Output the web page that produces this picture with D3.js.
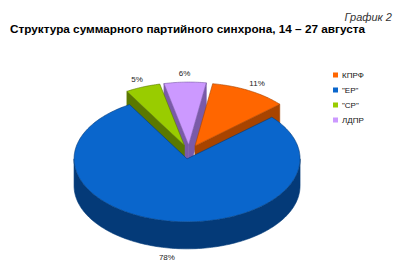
<!DOCTYPE html>
<html><head><meta charset="utf-8">
<script src="https://cdn.jsdelivr.net/npm/d3@7"></script>
<style>html,body{margin:0;padding:0;background:#fff;}svg{display:block;}</style>
</head><body>
<svg id="c" width="400" height="266"></svg>
<script>
const categories = ["КПРФ", "\"ЕР\"", "\"СР\"", "ЛДПР"];
const values = [11, 78, 5, 6];
const labels = ["11%", "78%", "5%", "6%"];
const topColors = ["#FF6600", "#0A66CC", "#99CC00", "#CC99FF"];
const sideColors = ["#A84400", "#043A78", "#5A7800", "#7A5AA8"];
const titleText = "Структура суммарного партийного синхрона, 14 – 27 августа";
const captionText = "График 2";

const svg = d3.select("#c");
const cx = 189, cy = 152, rx = 113, ry = 63, depth = 27, explode = 0.11;
const start = 9 * Math.PI / 180;

const pie = d3.pie().sort(null).value(d => d).startAngle(start).endAngle(start + 2 * Math.PI);
const arcs = pie(values);

function pt(ox, oy, a, z) { return [ox + rx * Math.sin(a), oy - ry * Math.cos(a) + z]; }
function arcPts(ox, oy, a0, a1, z) {
  const n = Math.max(2, Math.ceil(Math.abs(a1 - a0) / 0.02));
  return d3.range(n + 1).map(i => pt(ox, oy, a0 + (a1 - a0) * i / n, z));
}
const line = d3.line();

const items = arcs.map((a, i) => {
  const mid = (a.startAngle + a.endAngle) / 2;
  return { a, i, mid, ox: cx + Math.sin(mid) * rx * explode, oy: cy - Math.cos(mid) * ry * explode };
});
items.sort((p, q) => Math.cos(q.mid) - Math.cos(p.mid));

const g = svg.append("g");
items.forEach(it => {
  const { a, i, ox, oy } = it;
  const a0 = a.startAngle, a1 = a.endAngle;
  const side = sideColors[i], top = topColors[i];
  [[a0, a0 - Math.PI / 2], [a1, a1 + Math.PI / 2]].forEach(([ang, nrm]) => {
    if (Math.cos(nrm) < 0) {
      const p = [[ox, oy], pt(ox, oy, ang, 0), pt(ox, oy, ang, depth), [ox, oy + depth]];
      g.append("path").attr("d", line(p) + "Z").attr("fill", side)
        .attr("stroke", side).attr("stroke-width", 0.6).attr("stroke-linejoin", "round");
    }
  });
  [[Math.PI / 2, 3 * Math.PI / 2], [Math.PI / 2 + 2 * Math.PI, 3 * Math.PI / 2 + 2 * Math.PI]].forEach(([v0, v1]) => {
    const s = Math.max(a0, v0), e = Math.min(a1, v1);
    if (e > s) {
      const p = arcPts(ox, oy, s, e, 0).concat(arcPts(ox, oy, e, s, depth));
      g.append("path").attr("d", line(p) + "Z").attr("fill", side)
        .attr("stroke", side).attr("stroke-width", 0.6);
    }
  });
  const p = [[ox, oy]].concat(arcPts(ox, oy, a0, a1, 0));
  g.append("path").attr("d", line(p) + "Z").attr("fill", top)
    .attr("stroke", side).attr("stroke-width", 0.6).attr("stroke-linejoin", "round");
});

arcs.forEach((a, i) => {
  const mid = (a.startAngle + a.endAngle) / 2;
  const k = 1.25;
  const x = cx + Math.sin(mid) * rx * k;
  let y = cy - Math.cos(mid) * ry * k;
  if (Math.cos(mid) < 0) y += depth;
  svg.append("text").attr("x", x).attr("y", y).attr("dy", "0.35em")
    .attr("text-anchor", "middle").attr("font-family", "Arial, 'Liberation Sans', sans-serif")
    .attr("font-size", 8).attr("fill", "#222").text(labels[i]);
});

const leg = svg.append("g");
categories.forEach((c, i) => {
  const y = 75 + i * 15;
  leg.append("rect").attr("x", 333).attr("y", y - 2.5).attr("width", 5).attr("height", 5).attr("fill", topColors[i]);
  leg.append("text").attr("x", 342).attr("y", y).attr("dy", "0.35em")
    .attr("font-family", "Arial, 'Liberation Sans', sans-serif").attr("font-size", 8)
    .attr("fill", "#111").text(c);
});

svg.append("text").attr("x", 392).attr("y", 21).attr("text-anchor", "end")
  .attr("font-family", "Arial, 'Liberation Sans', sans-serif").attr("font-size", 11)
  .attr("font-style", "italic").attr("fill", "#333").text(captionText);
svg.append("text").attr("x", 10).attr("y", 33)
  .attr("font-family", "Arial, 'Liberation Sans', sans-serif").attr("font-size", 11)
  .attr("font-weight", "bold").attr("fill", "#000")
  .attr("textLength", 355).attr("lengthAdjust", "spacingAndGlyphs").text(titleText);
</script>
</body></html>
